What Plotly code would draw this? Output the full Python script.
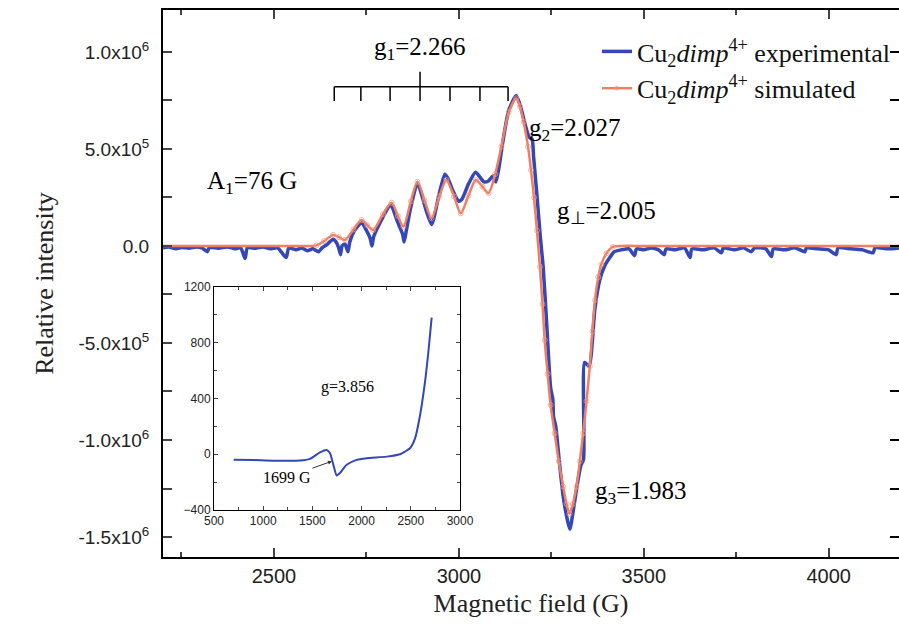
import plotly.graph_objects as go

# ---------------- data ----------------
# Experimental spectrum: field (G), intensity in units of 1e5
exp_field = [2200, 2215, 2235, 2250, 2270, 2290, 2305, 2320, 2325, 2350, 2375, 2395, 2410, 2422, 2428,
             2450, 2470, 2490, 2510, 2533, 2540, 2560, 2575, 2590, 2605, 2620, 2630,
             2645, 2660, 2668, 2675, 2680, 2684, 2692, 2700, 2705, 2718, 2737, 2750, 2760, 2765, 2770,
             2795, 2815, 2820, 2835, 2848, 2852, 2858, 2870, 2888, 2900, 2912, 2926, 2932, 2947, 2962,
             2970, 2985, 3000, 3008, 3026, 3045, 3055, 3068, 3080, 3092, 3100, 3108, 3120, 3135, 3155,
             3168, 3180, 3190, 3198, 3202, 3212, 3220, 3228, 3238, 3248, 3254, 3256, 3262, 3272, 3282,
             3292, 3300, 3308, 3320, 3330, 3337, 3340, 3352, 3368, 3381, 3395, 3408, 3420,
             3440, 3460, 3475, 3480, 3500, 3520, 3540, 3555, 3560, 3585, 3610, 3625, 3630, 3660, 3690,
             3710, 3715, 3745, 3770, 3790, 3800, 3830, 3845, 3850, 3880, 3910, 3935, 3940, 3970, 4000,
             4020, 4025, 4060, 4090, 4120, 4125, 4160, 4190]
exp_int = [-0.1, -0.05, -0.15, -0.08, -0.12, -0.05, -0.1, -0.3, -0.08, -0.12, -0.05, -0.15, -0.1, -0.65, -0.1,
           -0.12, -0.05, -0.15, -0.1, -0.6, -0.1, -0.2, -0.1, -0.25, -0.15, -0.3, -0.1,
           0.1, 0.35, 0.2, -0.1, -0.45, 0.0, 0.1, -0.3, 0.2, 0.8, 1.2, 0.8, 0.4, 0.0, 0.5,
           1.5, 2.15, 2.0, 1.2, 0.6, 0.2, 0.8, 2.0, 3.25, 2.6, 1.8, 1.1, 1.4, 2.7, 3.7,
           3.5, 2.8, 2.3, 2.4, 3.2, 3.8, 3.6, 3.3, 3.35, 3.6, 3.3, 4.0, 5.5, 7.0, 7.75,
           7.1, 6.2, 5.6, 5.5, 4.6, 2.4, 0.5, -1.1, -4.2, -7.3, -7.9, -8.8, -9.3, -11.2, -12.9,
           -14.0, -14.6, -13.8, -12.3, -11.3, -11.0, -6.0, -6.2, -3.2, -1.75, -1.0, -0.6, -0.3,
           -0.2, -0.15, -0.5, -0.15, -0.2, -0.1, -0.2, -0.45, -0.15, -0.2, -0.1, -0.6, -0.15, -0.2, -0.1,
           -0.35, -0.1, -0.2, -0.1, -0.3, -0.1, -0.15, -0.55, -0.15, -0.2, -0.1, -0.3, -0.1, -0.15, -0.2,
           -0.45, -0.1, -0.15, -0.2, -0.35, -0.1, -0.15, -0.1]

# Simulated spectrum
sim_field = [2200, 2300, 2400, 2500, 2580, 2615, 2635, 2660, 2676, 2692, 2715, 2737, 2752, 2768, 2795,
             2818, 2835, 2850, 2870, 2888, 2907, 2926, 2947, 2966, 2987, 3005, 3026, 3046, 3064, 3080,
             3098, 3115, 3135, 3155, 3165, 3175, 3187, 3195, 3203, 3211, 3219, 3226, 3232, 3240, 3248,
             3259, 3270, 3282, 3291, 3299, 3308, 3318, 3327, 3336, 3345, 3354, 3361, 3368, 3377, 3385,
             3399, 3416, 3440, 3500, 3600, 3700, 3800, 3900, 4000, 4100, 4190]
sim_int = [0, 0, 0, 0, 0, 0.03, 0.25, 0.57, 0.45, 0.31, 0.85, 1.34, 1.08, 0.82, 1.65,
           2.23, 1.55, 1.0, 2.3, 3.31, 2.35, 1.43, 2.55, 3.40, 2.55, 1.68, 2.6, 3.40, 3.05, 2.72,
           3.7, 5.12, 6.9, 7.61, 7.2, 6.4, 5.12, 3.9, 2.5, 0.8, -1.07, -3.0, -4.85, -6.6, -8.2,
           -9.65, -11.1, -12.4, -13.3, -13.8, -13.3, -12.4, -11.1, -9.65, -8.0, -6.2, -4.4, -2.78, -1.6, -0.95,
           -0.38, -0.05, 0, 0, 0, 0, 0, 0, 0, 0, 0]

# Inset spectrum (low field region)
inset_field = [700, 900, 1100, 1374, 1475, 1577, 1645, 1679, 1713, 1747, 1780, 1848, 1950, 2051, 2255,
               2390, 2441, 2492, 2543, 2594, 2644, 2678, 2712]
inset_int = [-40, -42, -46, -45, -33, 14, 31, 7, -76, -152, -135, -76, -40, -28, -17,
             0, 19, 43, 114, 280, 517, 730, 980]

# Hyperfine stick positions (G)
hf_lines = [2663, 2735, 2814, 2895, 2976, 3057, 3133]

y_tickvals = [1.0e6, 5.0e5, 0, -5.0e5, -1.0e6, -1.5e6]
y_ticktext = ["1.0x10<sup>6</sup>", "5.0x10<sup>5</sup>", "0.0", "-5.0x10<sup>5</sup>",
              "-1.0x10<sup>6</sup>", "-1.5x10<sup>6</sup>"]
x_tickvals = [2500, 3000, 3500, 4000]
inset_xticks = [500, 1000, 1500, 2000, 2500, 3000]
inset_yticks = [-400, 0, 400, 800, 1200]

# ---------------- layout constants ----------------
W, H = 899, 633
L, R, T, B = 163, 899, 10, 557
SCALE = 1e5
BLUE = "#3347B8"
ORANGE = "#F27E62"
SERIF = "Liberation Serif, Times New Roman, serif"
SANS = "Liberation Sans, Arial, sans-serif"
X_RANGE = [2200, 4190]
Y_RANGE = [-16.03e5, 12.16e5]

def px_x(p):
    return (p - L) / (R - L)

def px_y(p):
    return (B - p) / (B - T)

exp_y = [v * SCALE for v in exp_int]
sim_y = [v * SCALE for v in sim_int]
# markers only where the simulated curve departs from the baseline
sim_msize = [5 if abs(v) > 0.02 else 0 for v in sim_int]

fig = go.Figure()

fig.add_trace(go.Scatter(
    x=exp_field, y=exp_y, mode="lines",
    line=dict(color=BLUE, width=3.5, shape="spline", smoothing=0.6),
    name="Cu<sub>2</sub><i>dimp</i><sup>4+</sup> experimental",
))
fig.add_trace(go.Scatter(
    x=sim_field, y=sim_y, mode="lines+markers",
    line=dict(color=ORANGE, width=2.5, shape="spline", smoothing=0.8),
    marker=dict(symbol="circle-open", size=sim_msize, color="#F49A84", line=dict(width=1)),
    name="Cu<sub>2</sub><i>dimp</i><sup>4+</sup> simulated",
))
fig.add_trace(go.Scatter(
    x=inset_field, y=inset_int, mode="lines", xaxis="x2", yaxis="y2",
    line=dict(color=BLUE, width=2, shape="spline", smoothing=0.6),
    showlegend=False,
))

# hyperfine bracket
y_bar, y_tick, y_top = 8.21e5, 7.47e5, 8.98e5
fig.add_shape(type="line", x0=hf_lines[0], x1=hf_lines[-1], y0=y_bar, y1=y_bar,
              line=dict(color="black", width=1.5))
for i, xv in enumerate(hf_lines):
    top = y_top if i == len(hf_lines) // 2 else y_bar
    fig.add_shape(type="line", x0=xv, x1=xv, y0=y_tick, y1=top,
                  line=dict(color="black", width=1.5))

ann_font = dict(family=SERIF, size=25, color="black")
annotations = [
    dict(x=hf_lines[3], y=10.2e5, text="g<sub>1</sub>=2.266", xanchor="center"),
    dict(x=2313, y=3.25e5, text="A<sub>1</sub>=76 G", xanchor="left"),
    dict(x=3184, y=5.98e5, text="g<sub>2</sub>=2.027", xanchor="left"),
    dict(x=3259, y=1.70e5, text="g<sub>⊥</sub>=2.005", xanchor="left"),
    dict(x=3362, y=-12.68e5, text="g<sub>3</sub>=1.983", xanchor="left"),
]
for a in annotations:
    fig.add_annotation(xref="x", yref="y", showarrow=False, yanchor="middle", font=ann_font, **a)

fig.add_annotation(xref="x2", yref="y2", x=1852, y=484, text="g=3.856", showarrow=False,
                   font=dict(family=SERIF, size=16, color="black"))
fig.add_annotation(xref="x2", yref="y2", x=1699, y=-50, text="1699 G", showarrow=True,
                   arrowhead=2, arrowsize=0.8, arrowwidth=1, arrowcolor="#333",
                   ax=-45, ay=16, font=dict(family=SERIF, size=16, color="black"))

axis_common = dict(showline=True, linecolor="black", ticks="inside",
                   showgrid=False, zeroline=False, automargin=False)

fig.update_layout(
    width=W, height=H,
    margin=dict(l=L, r=W - R, t=T, b=H - B, pad=0),
    paper_bgcolor="white", plot_bgcolor="white",
    xaxis=dict(range=X_RANGE, tickvals=x_tickvals, linewidth=2, ticklen=9, tickwidth=2,
               mirror="ticks",
               tickfont=dict(family=SANS, size=20, color="#222"),
               minor=dict(ticks="inside", dtick=250, tick0=2250, ticklen=5, tickwidth=1.5),
               title=dict(text="Magnetic field (G)", font=dict(family=SERIF, size=26, color="#222"),
                          standoff=8),
               **axis_common),
    yaxis=dict(range=Y_RANGE, tickvals=y_tickvals, ticktext=y_ticktext,
               linewidth=2, ticklen=9, tickwidth=2, mirror=False, ticklabelstandoff=8,
               tickfont=dict(family=SANS, size=19, color="#222"),
               minor=dict(ticks="inside", dtick=2.5e5, tick0=0, ticklen=9, tickwidth=1.5),
               title=dict(text="Relative intensity", font=dict(family=SERIF, size=26, color="#222"),
                          standoff=17),
               **axis_common),
    # right-hand tick marks (the right frame line falls just outside the picture)
    yaxis3=dict(range=Y_RANGE, overlaying="y", side="right", anchor="x", tickvals=y_tickvals,
                showticklabels=False, ticks="inside", ticklen=9, tickwidth=2, tickcolor="black",
                showline=False, showgrid=False, zeroline=False, automargin=False,
                minor=dict(ticks="inside", dtick=2.5e5, tick0=0, ticklen=9, tickwidth=1.5)),
    xaxis2=dict(domain=[px_x(214), px_x(460)], anchor="y2", range=[500, 3000], mirror="ticks",
                tickvals=inset_xticks, linewidth=1, ticklen=4, tickwidth=1,
                tickfont=dict(family=SANS, size=12, color="#222"),
                minor=dict(ticks="inside", dtick=250, ticklen=3),
                **axis_common),
    yaxis2=dict(domain=[px_y(510), px_y(287)], anchor="x2", range=[-400, 1200], mirror="ticks",
                tickvals=inset_yticks, linewidth=1, ticklen=4, tickwidth=1,
                tickfont=dict(family=SANS, size=12, color="#222"),
                minor=dict(ticks="inside", dtick=200, ticklen=3),
                **axis_common),
    legend=dict(x=px_x(597), y=px_y(28), xanchor="left", yanchor="top",
                bgcolor="rgba(0,0,0,0)", font=dict(family=SERIF, size=26, color="#111"),
                tracegroupgap=6),
    showlegend=True,
)

# dummy invisible trace to activate the right-hand tick axis
fig.add_trace(go.Scatter(x=[X_RANGE[0]], y=[0], yaxis="y3", mode="markers",
                         marker=dict(size=0, opacity=0), showlegend=False, hoverinfo="skip"))

fig.write_html("out.html", config={"displayModeBar": False},
               post_script="document.body.style.margin='0';document.body.style.overflow='hidden';")
